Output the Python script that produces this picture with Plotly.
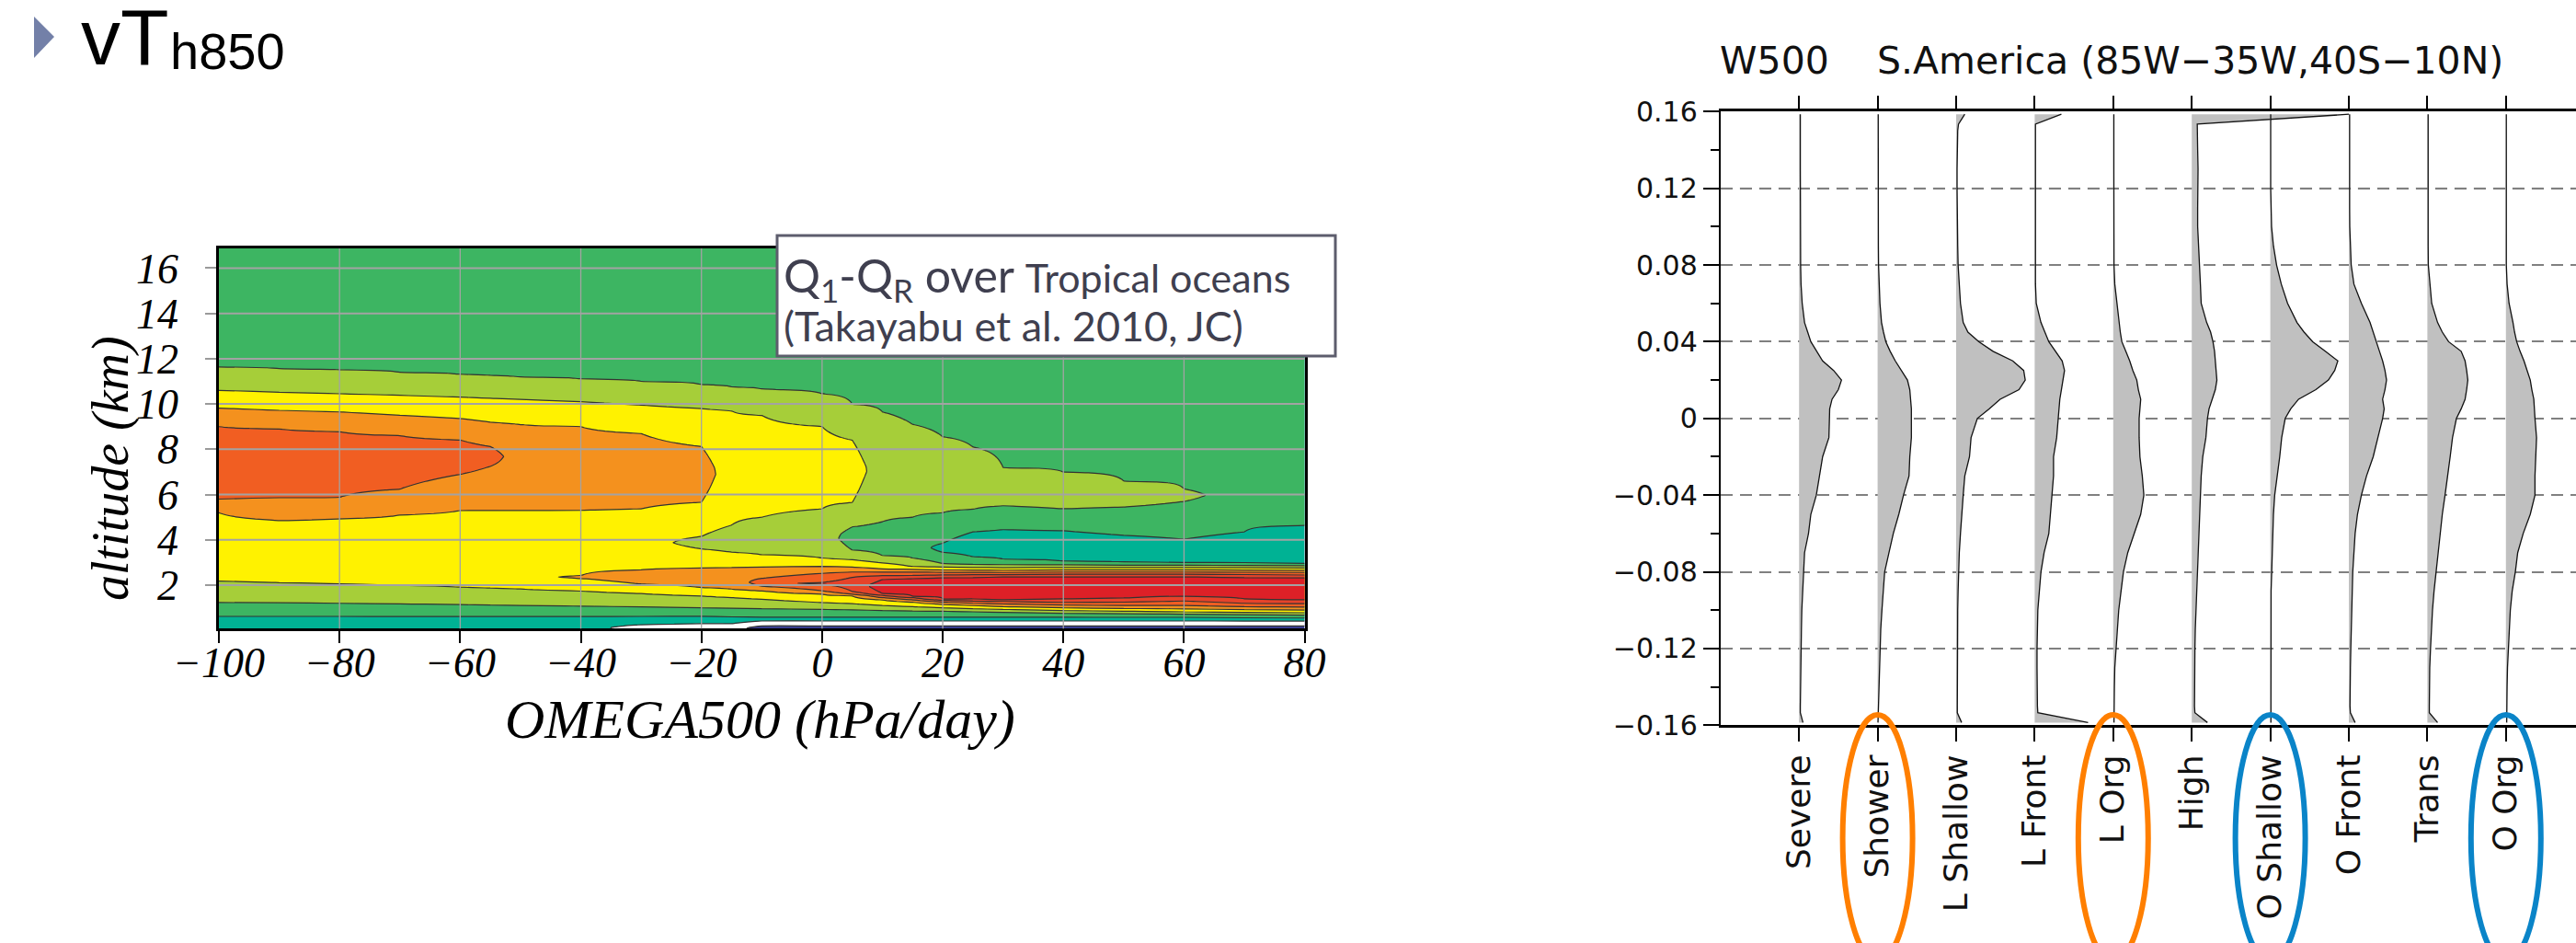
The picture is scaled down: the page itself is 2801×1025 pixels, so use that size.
import numpy as np
import plotly.graph_objects as go

W, H = 2801, 1025

def px(x):
    return x / W

def py(y):
    return 1 - y / H

# ---------------- left panel: Q1-QR composite (altitude vs OMEGA500) ----------------
OMEGA = [-100, -90, -80, -70, -60, -55, -50, -40, -30, -20, -15, -10, 0, 5, 10, 15, 20, 25, 30, 40, 50, 60, 70, 80]

# band codes -> field value (contour thresholds at integers -2..6)
LEVEL_CODE = {"B": -2.5, "W": -1.5, "T": -0.5, "G": 0.5, "Y1": 1.5, "Y": 2.5,
              "O": 3.5, "R1": 4.5, "R": 5.5, "R2": 6.5}

# each column: (band, top of band in km) from the ground up
P_M100 = [("T", 0.62), ("G", 1.23), ("Y1", 2.17), ("Y", 5.2), ("O", 5.8), ("R1", 9.0), ("O", 9.82), ("Y", 10.6), ("Y1", 11.63), ("G", 17)]
P_M90 = [("T", 0.62), ("G", 1.22), ("Y1", 2.1), ("Y", 4.86), ("O", 5.85), ("R1", 8.9), ("O", 9.72), ("Y", 10.52), ("Y1", 11.56), ("G", 17)]
P_M80 = [("T", 0.62), ("G", 1.2), ("Y1", 2.05), ("Y", 4.93), ("O", 5.88), ("R1", 8.78), ("O", 9.65), ("Y", 10.45), ("Y1", 11.5), ("G", 17)]
P_M70 = [("T", 0.62), ("G", 1.17), ("Y1", 1.98), ("Y", 5.1), ("O", 6.24), ("R1", 8.6), ("O", 9.5), ("Y", 10.38), ("Y1", 11.4), ("G", 17)]
P_M60 = [("T", 0.62), ("G", 1.14), ("Y1", 1.9), ("Y", 5.3), ("O", 6.89), ("R1", 8.41), ("O", 9.36), ("Y", 10.3), ("Y1", 11.3), ("G", 17)]
P_M55 = [("T", 0.62), ("G", 1.12), ("Y1", 1.86), ("Y", 5.3), ("O", 7.25), ("R1", 8.12), ("O", 9.2), ("Y", 10.25), ("Y1", 11.25), ("G", 17)]
P_M50 = [("T", 0.62), ("G", 1.1), ("Y1", 1.82), ("Y", 5.3), ("O", 9.1), ("Y", 10.2), ("Y1", 11.2), ("G", 17)]
P_M40 = [("T", 0.62), ("G", 1.07), ("Y1", 1.74), ("Y", 2.3), ("O", 2.42), ("Y", 5.3), ("O", 9.0), ("Y", 10.1), ("Y1", 11.1), ("G", 17)]
P_M30 = [("W", 0.25), ("T", 0.62), ("G", 1.04), ("Y1", 1.63), ("Y", 2.05), ("O", 2.68), ("Y", 5.37), ("O", 8.7), ("Y", 9.95), ("Y1", 11.0), ("G", 17)]
P_M20 = [("W", 0.3), ("T", 0.62), ("G", 1.0), ("Y1", 1.52), ("Y", 1.89), ("O", 2.76), ("Y", 3.6), ("Y1", 4.15), ("Y", 5.66), ("O", 8.12), ("Y", 9.8), ("Y1", 10.85), ("G", 17)]
P_M15 = [("W", 0.3), ("T", 0.6), ("G", 0.98), ("Y1", 1.45), ("Y", 1.82), ("O", 2.78), ("Y", 3.45), ("Y1", 4.65), ("Y", 9.7), ("Y1", 10.75), ("G", 17)]
P_M10 = [("B", 0.2), ("W", 0.42), ("T", 0.58), ("G", 0.96), ("Y1", 1.38), ("Y", 1.75), ("O", 1.95), ("R1", 2.3), ("O", 2.8), ("Y", 3.34), ("Y1", 5.0), ("Y", 9.5), ("Y1", 10.65), ("G", 17)]
P_0 = [("B", 0.2), ("W", 0.42), ("T", 0.58), ("G", 0.93), ("Y1", 1.23), ("Y", 1.6), ("O", 1.75), ("R1", 2.05), ("R", 2.12), ("R1", 2.52), ("O", 2.83), ("Y", 3.19), ("Y1", 5.37), ("Y", 9.0), ("Y1", 10.45), ("G", 17)]
P_5 = [("B", 0.2), ("W", 0.42), ("T", 0.58), ("G", 0.91), ("Y1", 1.18), ("Y", 1.52), ("O", 1.6), ("R1", 1.72), ("R", 2.35), ("R1", 2.58), ("O", 2.8), ("Y", 3.12), ("Y1", 3.55), ("G", 4.57), ("Y1", 5.65), ("Y", 8.4), ("Y1", 10.0), ("G", 17)]
P_10 = [("B", 0.2), ("W", 0.42), ("T", 0.58), ("G", 0.88), ("Y1", 1.1), ("Y", 1.35), ("O", 1.45), ("R1", 1.55), ("R", 1.62), ("R2", 2.25), ("R", 2.42), ("R1", 2.58), ("O", 2.72), ("Y", 2.98), ("Y1", 3.3), ("G", 4.8), ("Y1", 9.65), ("G", 17)]
P_15 = [("B", 0.2), ("W", 0.42), ("T", 0.58), ("G", 0.86), ("Y1", 1.05), ("Y", 1.25), ("O", 1.35), ("R1", 1.45), ("R", 1.5), ("R2", 2.3), ("R", 2.43), ("R1", 2.58), ("O", 2.7), ("Y", 2.82), ("Y1", 3.2), ("G", 5.0), ("Y1", 9.1), ("G", 17)]
P_20 = [("B", 0.2), ("W", 0.42), ("T", 0.58), ("G", 0.85), ("Y1", 1.0), ("Y", 1.15), ("O", 1.25), ("R1", 1.33), ("R", 1.4), ("R2", 2.33), ("R", 2.45), ("R1", 2.57), ("O", 2.67), ("Y", 2.8), ("Y1", 2.95), ("G", 3.45), ("T", 3.85), ("G", 5.2), ("Y1", 8.55), ("G", 17)]
P_25 = [("B", 0.2), ("W", 0.42), ("T", 0.58), ("G", 0.83), ("Y1", 0.96), ("Y", 1.1), ("O", 1.2), ("R1", 1.3), ("R", 1.37), ("R2", 2.35), ("R", 2.46), ("R1", 2.57), ("O", 2.67), ("Y", 2.78), ("Y1", 2.92), ("G", 3.25), ("T", 4.35), ("G", 5.35), ("Y1", 8.1), ("G", 17)]
P_30 = [("B", 0.2), ("W", 0.42), ("T", 0.58), ("G", 0.8), ("Y1", 0.93), ("Y", 1.05), ("O", 1.17), ("R1", 1.28), ("R", 1.35), ("R2", 2.36), ("R", 2.46), ("R1", 2.56), ("O", 2.66), ("Y", 2.77), ("Y1", 2.9), ("G", 3.15), ("T", 4.45), ("G", 5.5), ("Y1", 7.2), ("G", 17)]
P_40 = [("B", 0.2), ("W", 0.42), ("T", 0.58), ("G", 0.76), ("Y1", 0.88), ("Y", 1.0), ("O", 1.12), ("R1", 1.24), ("R", 1.38), ("R2", 2.38), ("R", 2.48), ("R1", 2.58), ("O", 2.68), ("Y", 2.78), ("Y1", 2.9), ("G", 3.05), ("T", 4.4), ("G", 5.37), ("Y1", 7.0), ("G", 17)]
P_50 = [("B", 0.2), ("W", 0.42), ("T", 0.58), ("G", 0.74), ("Y1", 0.85), ("Y", 0.97), ("O", 1.1), ("R1", 1.25), ("R", 1.42), ("R2", 2.38), ("R", 2.48), ("R1", 2.58), ("O", 2.68), ("Y", 2.78), ("Y1", 2.88), ("G", 3.02), ("T", 4.2), ("G", 5.45), ("Y1", 6.6), ("G", 17)]
P_60 = [("B", 0.2), ("W", 0.42), ("T", 0.58), ("G", 0.72), ("Y1", 0.82), ("Y", 0.95), ("O", 1.1), ("R1", 1.3), ("R", 1.5), ("R2", 2.38), ("R", 2.48), ("R1", 2.58), ("O", 2.68), ("Y", 2.78), ("Y1", 2.88), ("G", 3.0), ("T", 4.03), ("G", 5.7), ("Y1", 6.25), ("G", 17)]
P_70 = [("B", 0.2), ("W", 0.42), ("T", 0.56), ("G", 0.7), ("Y1", 0.8), ("Y", 0.92), ("O", 1.05), ("R1", 1.2), ("R", 1.4), ("R2", 2.35), ("R", 2.47), ("R1", 2.57), ("O", 2.67), ("Y", 2.77), ("Y1", 2.87), ("G", 2.98), ("T", 4.35), ("G", 17)]
P_80 = [("B", 0.2), ("W", 0.42), ("T", 0.55), ("G", 0.68), ("Y1", 0.78), ("Y", 0.9), ("O", 1.03), ("R1", 1.18), ("R", 1.35), ("R2", 2.33), ("R", 2.45), ("R1", 2.56), ("O", 2.66), ("Y", 2.76), ("Y1", 2.86), ("G", 2.96), ("T", 4.64), ("G", 17)]

PROFILES = [P_M100, P_M90, P_M80, P_M70, P_M60, P_M55, P_M50, P_M40, P_M30, P_M20, P_M15,
            P_M10, P_0, P_5, P_10, P_15, P_20, P_25, P_30, P_40, P_50, P_60, P_70, P_80]

BAND_COLORS = ["#3a3f91", "#ffffff", "#00b294", "#3db562", "#a6ce39", "#fff200",
               "#f4911e", "#f15e22", "#e6432a", "#dd2027"]

ALT = [round(0.04 * k, 2) for k in range(0, 426)]


def column_field(profile, alts):
    """Continuous field whose contour thresholds fall exactly on the read band tops."""
    ky, kz = [], []
    codes = [LEVEL_CODE[c] for c, _ in profile]
    bottom = 0.0
    for k, (_, top) in enumerate(profile):
        if k == 0:
            ky.append(0.0)
            kz.append(codes[0])
        ky.append((bottom + top) / 2)
        kz.append(codes[k])
        ky.append(top)
        kz.append((codes[k] + codes[k + 1]) / 2 if k < len(profile) - 1 else codes[k])
        bottom = top
    return np.interp(alts, ky, kz)


COLS = [column_field(p, ALT) for p in PROFILES]
Z = [[float(COLS[j][r]) for j in range(len(PROFILES))] for r in range(len(ALT))]

# ---------------- right panel: W500 distributions per category ----------------
CATEGORIES = ["Severe", "Shower", "L Shallow", "L Front", "L Org", "High",
              "O Shallow", "O Front", "Trans", "O Org"]

W500 = [-0.1586, -0.1535, -0.15, -0.14, -0.13, -0.12, -0.11, -0.10, -0.09, -0.08,
        -0.07, -0.06, -0.05, -0.04, -0.03, -0.02, -0.01, 0.0, 0.005, 0.01,
        0.015, 0.02, 0.025, 0.03, 0.035, 0.04, 0.045, 0.05, 0.06, 0.07,
        0.08, 0.09, 0.10, 0.11, 0.12, 0.13, 0.14, 0.15, 0.1535, 0.1586]

D_SEVERE = [0.05, 0.016, 0.016, 0.018, 0.02, 0.024, 0.03, 0.035, 0.045, 0.056, 0.07, 0.12, 0.15, 0.22, 0.26, 0.30, 0.38, 0.39, 0.39, 0.42,
            0.50, 0.54, 0.44, 0.30, 0.22, 0.15, 0.11, 0.07, 0.04, 0.025, 0.02, 0.018, 0.015, 0.015, 0.016, 0.016, 0.016, 0.016, 0.016, 0.016]
D_SHOWER = [0.005, 0.008, 0.01, 0.015, 0.02, 0.03, 0.04, 0.055, 0.07, 0.09, 0.145, 0.20, 0.27, 0.33, 0.40, 0.41, 0.43, 0.43, 0.43, 0.42,
            0.41, 0.38, 0.30, 0.225, 0.16, 0.105, 0.075, 0.05, 0.03, 0.02, 0.012, 0.01, 0.01, 0.008, 0.008, 0.008, 0.008, 0.008, 0.008, 0.008]
D_L_SHALLOW = [0.07, 0.015, 0.015, 0.015, 0.015, 0.016, 0.018, 0.02, 0.025, 0.03, 0.04, 0.055, 0.07, 0.09, 0.11, 0.17, 0.19, 0.27, 0.42, 0.56,
               0.80, 0.88, 0.86, 0.72, 0.47, 0.29, 0.15, 0.09, 0.055, 0.04, 0.025, 0.02, 0.015, 0.012, 0.012, 0.012, 0.015, 0.02, 0.03, 0.11]
D_L_FRONT = [0.68, 0.04, 0.035, 0.03, 0.03, 0.03, 0.035, 0.04, 0.06, 0.08, 0.12, 0.18, 0.20, 0.22, 0.24, 0.24, 0.28, 0.30, 0.31, 0.32,
             0.34, 0.36, 0.38, 0.35, 0.27, 0.18, 0.13, 0.08, 0.02, 0.01, 0.01, 0.01, 0.01, 0.01, 0.01, 0.01, 0.01, 0.01, 0.01, 0.34]
D_L_ORG = [0.01, 0.01, 0.01, 0.015, 0.02, 0.035, 0.05, 0.07, 0.10, 0.13, 0.185, 0.27, 0.35, 0.39, 0.37, 0.34, 0.33, 0.33, 0.34, 0.35,
           0.32, 0.30, 0.25, 0.21, 0.16, 0.11, 0.09, 0.075, 0.05, 0.02, 0.01, 0.008, 0.008, 0.008, 0.008, 0.008, 0.008, 0.008, 0.008, 0.008]
D_HIGH = [0.2, 0.04, 0.035, 0.035, 0.04, 0.04, 0.045, 0.055, 0.06, 0.07, 0.08, 0.09, 0.10, 0.11, 0.12, 0.14, 0.18, 0.20, 0.22, 0.26,
          0.30, 0.32, 0.31, 0.30, 0.29, 0.27, 0.24, 0.19, 0.12, 0.11, 0.10, 0.09, 0.075, 0.075, 0.08, 0.08, 0.075, 0.075, 0.07, 2.0]
D_O_SHALLOW = [0.008, 0.008, 0.008, 0.008, 0.008, 0.008, 0.008, 0.008, 0.01, 0.018, 0.025, 0.03, 0.04, 0.056, 0.09, 0.12, 0.145, 0.19, 0.26, 0.36,
               0.58, 0.74, 0.82, 0.86, 0.70, 0.54, 0.43, 0.34, 0.22, 0.14, 0.08, 0.04, 0.016, 0.008, 0.005, 0.005, 0.005, 0.005, 0.005, 0.005]
D_O_FRONT = [0.08, 0.02, 0.015, 0.015, 0.02, 0.025, 0.03, 0.035, 0.04, 0.05, 0.065, 0.08, 0.11, 0.16, 0.225, 0.31, 0.37, 0.43, 0.45, 0.43,
             0.46, 0.48, 0.46, 0.43, 0.39, 0.35, 0.31, 0.27, 0.16, 0.065, 0.03, 0.02, 0.012, 0.01, 0.01, 0.01, 0.01, 0.01, 0.01, 0.01]
D_TRANS = [0.13, 0.025, 0.025, 0.025, 0.03, 0.04, 0.05, 0.065, 0.085, 0.11, 0.135, 0.16, 0.19, 0.225, 0.26, 0.29, 0.32, 0.37, 0.43, 0.48,
           0.50, 0.515, 0.50, 0.48, 0.43, 0.27, 0.19, 0.13, 0.055, 0.03, 0.012, 0.01, 0.01, 0.01, 0.01, 0.01, 0.01, 0.01, 0.01, 0.01]
D_O_ORG = [0.01, 0.01, 0.012, 0.015, 0.02, 0.03, 0.04, 0.056, 0.08, 0.12, 0.15, 0.22, 0.31, 0.37, 0.37, 0.38, 0.39, 0.37, 0.36, 0.355,
           0.33, 0.31, 0.27, 0.23, 0.18, 0.137, 0.11, 0.09, 0.04, 0.015, 0.005, 0.005, 0.005, 0.005, 0.005, 0.005, 0.005, 0.005, 0.005, 0.005]

DENSITIES = [D_SEVERE, D_SHOWER, D_L_SHALLOW, D_L_FRONT, D_L_ORG, D_HIGH,
             D_O_SHALLOW, D_O_FRONT, D_TRANS, D_O_ORG]

W_TICKS = [-0.16, -0.12, -0.08, -0.04, 0, 0.04, 0.08, 0.12, 0.16]
W_TICKTEXT = ["\u22120.16", "\u22120.12", "\u22120.08", "\u22120.04", "0", "0.04", "0.08", "0.12", "0.16"]

HIGHLIGHT_ORANGE = ["Shower", "L Org"]
HIGHLIGHT_BLUE = ["O Shallow", "O Org"]

# ---------------- figure ----------------
fig = go.Figure()

nlev = 9
colorscale = [[k / nlev, c] for k, c in enumerate(BAND_COLORS)]
fig.add_trace(go.Contour(
    x=OMEGA, y=ALT, z=Z, xaxis="x", yaxis="y",
    contours=dict(start=-2, end=6, size=1, coloring="fill", showlines=True),
    line=dict(color="#333333", width=1.2, smoothing=0.6),
    colorscale=colorscale, showscale=False, hoverinfo="skip",
))

for i, (name, dens) in enumerate(zip(CATEGORIES, DENSITIES), start=1):
    xs = [i + d for d in dens]
    fig.add_trace(go.Scatter(
        x=xs + [i, i], y=W500 + [W500[-1], W500[0]], xaxis="x2", yaxis="y2",
        mode="none", fill="toself", fillcolor="#c0c0c0", hoverinfo="skip",
    ))
    fig.add_trace(go.Scatter(
        x=xs, y=W500, xaxis="x2", yaxis="y2", mode="lines",
        line=dict(color="#111111", width=1.3), hoverinfo="skip",
    ))

shapes = []
# grid lines drawn over the filled contours
for v in [-80, -60, -40, -20, 0, 20, 40, 60]:
    shapes.append(dict(type="line", xref="x", yref="y domain", x0=v, x1=v, y0=0, y1=1,
                       line=dict(color="#a3a3a3", width=1.3), layer="above"))
for v in [2, 4, 6, 8, 10, 12, 14, 16]:
    shapes.append(dict(type="line", xref="x domain", yref="y", x0=0, x1=1, y0=v, y1=v,
                       line=dict(color="#a3a3a3", width=2), layer="above"))
# lighter dashed line at w=0.12 on the right panel
shapes.append(dict(type="line", xref="x2 domain", yref="y2", x0=0, x1=1, y0=0.12, y1=0.12,
                   line=dict(color="#bdbdbd", width=2, dash="13px,8px"), layer="below"))
# text box
shapes.append(dict(type="rect", xref="paper", yref="paper", x0=px(845), x1=px(1452),
                   y0=py(387), y1=py(256), fillcolor="white",
                   line=dict(color="#5d5d6d", width=3), layer="above"))
# bullet triangle
shapes.append(dict(type="path", xref="paper", yref="paper",
                   path=f"M {px(37)} {py(18)} L {px(59)} {py(40)} L {px(37)} {py(63)} Z",
                   fillcolor="#7380a8", line=dict(width=0)))
# highlight ellipses
for name in HIGHLIGHT_ORANGE + HIGHLIGHT_BLUE:
    i = CATEGORIES.index(name) + 1
    col = "#ff7f00" if name in HIGHLIGHT_ORANGE else "#0a84c8"
    shapes.append(dict(type="circle", xref="x2", yref="paper", x0=i - 0.445, x1=i + 0.445,
                       y0=py(1045), y1=py(777), line=dict(color=col, width=6),
                       fillcolor="rgba(0,0,0,0)", layer="above"))

serif = dict(family="Liberation Serif", style="italic", color="black")
annotations = [
    dict(text="vT", x=px(86), y=py(40), xref="paper", yref="paper", xanchor="left", yanchor="middle",
         showarrow=False, font=dict(family="Liberation Sans", size=86, color="black")),
    dict(text="h850", x=px(183), y=py(55), xref="paper", yref="paper", xanchor="left", yanchor="middle",
         showarrow=False, font=dict(family="Liberation Sans", size=56, color="black")),
    dict(text="OMEGA500 (hPa/day)", x=px(826), y=py(782), xref="paper", yref="paper",
         xanchor="center", yanchor="middle", showarrow=False, font=dict(size=60, **serif)),
    dict(text="altitude (km)", x=px(120), y=py(509), xref="paper", yref="paper", textangle=-90,
         xanchor="center", yanchor="middle", showarrow=False, font=dict(size=56, **serif)),
    dict(text="Q<sub>1</sub>-Q<sub>R</sub> over <span style='font-size:43px'>Tropical oceans</span>",
         x=px(850), y=py(302), xref="paper", yref="paper", xanchor="left", yanchor="middle",
         showarrow=False, font=dict(family="Lato", size=50, color="#3f3f4f")),
    dict(text="(Takayabu et al. 2010, JC)", x=px(850), y=py(354), xref="paper", yref="paper",
         xanchor="left", yanchor="middle", showarrow=False,
         font=dict(family="Lato", size=45, color="#3f3f4f")),
    dict(text="W500\u00a0\u00a0\u00a0\u00a0S.America (85W\u221235W,40S\u221210N)", x=px(1868), y=py(66),
         xref="paper", yref="paper", xanchor="left", yanchor="middle", showarrow=False,
         font=dict(family="DejaVu Sans", size=41, color="#111111")),
]

fig.update_layout(
    width=W, height=H, margin=dict(l=0, r=0, t=0, b=0),
    paper_bgcolor="white", plot_bgcolor="white", showlegend=False, template="none",
    xaxis=dict(domain=[px(238), px(1418.6)], range=[-100, 80], anchor="y",
               tickvals=[-100, -80, -60, -40, -20, 0, 20, 40, 60, 80],
               ticks="outside", ticklen=13, tickwidth=1.5, tickcolor="black",
               showline=True, linecolor="black", linewidth=2.5, mirror=True,
               showgrid=False, zeroline=False, ticklabelstandoff=-18,
               tickfont=dict(size=46, **serif)),
    yaxis=dict(domain=[py(683.3), py(270)], range=[0.08, 16.87], anchor="x",
               tickvals=[2, 4, 6, 8, 10, 12, 14, 16],
               ticks="outside", ticklen=12, tickwidth=2, tickcolor="#9a9a9a",
               showline=True, linecolor="black", linewidth=2.5, mirror=True,
               showgrid=False, zeroline=False, ticklabelstandoff=20,
               tickfont=dict(size=46, **serif)),
    xaxis2=dict(domain=[px(1870.8), 1.0], range=[0, (W - 1870.8) / 85.4], anchor="y2",
                tickvals=list(range(1, 11)), ticktext=CATEGORIES, tickangle=-90,
                ticks="outside", ticklen=15, tickwidth=2, tickcolor="black",
                showline=True, linecolor="black", linewidth=2.5, mirror="ticks",
                showgrid=False, zeroline=False,
                tickfont=dict(family="DejaVu Sans", size=36, color="#111111")),
    yaxis2=dict(domain=[py(788.3), py(121.3)], range=[-0.16, 0.16], anchor="x2",
                tickvals=W_TICKS, ticktext=W_TICKTEXT,
                ticks="outside", ticklen=17, tickwidth=2, tickcolor="black",
                showline=True, linecolor="black", linewidth=2, mirror=False,
                showgrid=True, gridcolor="#808080", gridwidth=2, griddash="13px,8px",
                zeroline=False,
                minor=dict(ticks="outside", ticklen=9, tickwidth=1.5, tickcolor="black",
                           dtick=0.02, tick0=0, showgrid=False),
                tickfont=dict(family="DejaVu Sans", size=30, color="#111111")),
    shapes=shapes, annotations=annotations,
)

fig.write_html("out.html")
